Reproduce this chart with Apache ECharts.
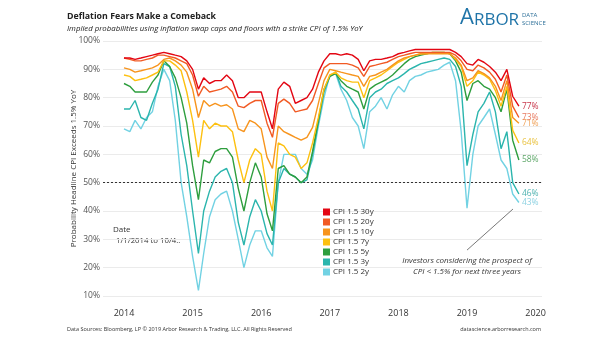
<!DOCTYPE html>
<html><head><meta charset="utf-8">
<script src="https://cdn.jsdelivr.net/npm/echarts@6/dist/echarts.min.js"></script>
<style>html,body{margin:0;padding:0;background:#fff}#c{width:605px;height:341px}</style>
</head><body><div id="c"></div>
<script>
const dates = ['2014-01','2014-02','2014-03','2014-04','2014-05','2014-06','2014-07','2014-08','2014-09','2014-10','2014-11','2014-12',
'2015-01','2015-02','2015-03','2015-04','2015-05','2015-06','2015-07','2015-08','2015-09','2015-10','2015-11','2015-12',
'2016-01','2016-02','2016-03','2016-04','2016-05','2016-06','2016-07','2016-08','2016-09','2016-10','2016-11','2016-12',
'2017-01','2017-02','2017-03','2017-04','2017-05','2017-06','2017-07','2017-08','2017-09','2017-10','2017-11','2017-12',
'2018-01','2018-02','2018-03','2018-04','2018-05','2018-06','2018-07','2018-08','2018-09','2018-10','2018-11','2018-12',
'2019-01','2019-02','2019-03','2019-04','2019-05','2019-06','2019-07','2019-08','2019-09','2019-10-04'];
const s30y = [94,94,93.5,94,94.5,95,95.5,96,95.5,95,94.5,93, 90,83,87,85,86,86,88,86,80,80,82,82, 82,75,69,83,85.5,84,78,79,80,83,89,93, 95.5,95.5,95,95.5,95,93.5,89.5,93,93.5,93.5,94,94.5, 95.5,96,96.5,97,97,97,97,97,97,97,96,94.5, 92,91.5,93.5,92.5,91,89,86,90,80.5,77];
const s20y = [94,93.5,93,93,93.5,94,95,95,94.5,94,93,92, 88,80.5,84,82,82.5,83,84,82,77,76.5,78,79, 79,71,66,78,79.5,78,75,75.5,76,79,85,90.5, 92,92,92,92,91.5,90.5,87.5,91,91.5,92,92.5,93.5, 94.5,95,95.5,96,96,96,96,96,96,96,95,93, 90,89.5,91.5,90.5,89,86.5,82,88,77,73];
const s10y = [90.5,90,89,89.5,90,90.5,91.5,93.5,94,93,91.5,89, 83,73,79,77,78,77,77.5,76,69,68,72,71, 69,59,55,70,68,67,66,65,66,69.5,78,86, 90,89.5,89,88.5,88,87.5,84,87.5,88,89,90,91.5, 93,94,94.5,95,95.5,95.5,95.5,95.5,95.5,95.5,94,91.5, 86,87,89.5,88.5,87,84,79,86,73,71];
const s7y = [88,87.5,86,86.5,87,88,89,93,93,91.5,89.5,82, 72,59,72,69,71,70,70,68,58,50,58,62, 60,47,40,64,63,60,59,55,57,64,73,83, 88,89,87,86,85.5,85.5,80,86,87,88,89.5,91, 92.5,93.5,94.5,95,95.5,95.5,96,96,96,95.5,93.5,91, 84,86,89,88,86.5,82.5,77,84,68.5,64];
const s5y = [85,84,82,82,82,85.5,88,93,91,87,80,71, 56,44,58,57,61,62,62,59,48,40,50,57, 52,39,33,55,56,53,52,50,52,61,72,83, 87.5,88.5,86,84,83,82,76,83,84.5,85.5,86.5,88, 90,92,93.5,94.5,95,95.5,96,96,96,95.5,93,89, 79,85,86,84,83,80,75,83,65,58];
const s3y = [76,76,79,73,72,78,83,92,91,84,67,56, 40,25,40,47,52,54,55,50,36,28,38,44, 40,32,28,50,55,53,52,50,51,60,71,82, 87.5,89,84,82,79,76,69,80,82,83,85,86, 87,88.5,90,91,92,92.5,93,93.5,94,93.5,91,84, 56,67,75,78,82,75,62,68,50,46];
const s2y = [69,68,72,69,73,75,84,90,86,72,50,38, 24,12,25,38,44,46,47,40,30,20,28,33, 33,27,24,50,60,60,60,55,53,58,70,80, 88,88.5,83,79,73,70,62,75,77,80,76,81, 84,82,86,87.5,88,89,89.5,90,91.5,92.5,86,68, 41,60,70,73,76,67,58,55,46,43];
const seriesNames = ['CPI 1.5 30y','CPI 1.5 20y','CPI 1.5 10y','CPI 1.5 7y','CPI 1.5 5y','CPI 1.5 3y','CPI 1.5 2y'];
const yearTicks = [2014,2015,2016,2017,2018,2019,2020];
const threshold = 50;

const colors = ['#e30613','#f15a24','#f7941d','#fdc010','#2e9e3e','#2bb5ad','#72d2e3'];
const labelColors = ['#c8364a','#e87c62','#f0a35a','#e9c240','#5fa86a','#4fb2b0','#8fd2e2'];
const FONT = 'Open Sans';

function decYear(s){
  const p = s.split('-').map(Number);
  const y = p[0], m = p[1]-1, d = p[2] || 1;
  const a = Date.UTC(y,0,1), b = Date.UTC(y+1,0,1);
  return y + (Date.UTC(y,m,d)-a)/(b-a);
}
const xs = dates.map(decYear);
const all = [s30y,s20y,s10y,s7y,s5y,s3y,s2y];

const series = all.map((vals,k)=>({
  name: seriesNames[k], type:'line', showSymbol:false, symbol:'none',
  data: vals.map((v,i)=>[xs[i], v]),
  lineStyle:{width:1.4, color:colors[k]}, itemStyle:{color:colors[k]},
  z: 10-k,
  endLabel:{show:true, distance:3, color:labelColors[k], fontFamily:FONT, fontSize:8.5,
    formatter: p => Math.round(p.value[1]) + '%'}
}));
series[0].markLine = {silent:true, symbol:'none', label:{show:false},
  lineStyle:{type:[2,2], color:'#333', width:1}, data:[{yAxis:threshold}]};
series[6].markLine = {silent:true, symbol:'none', label:{show:false},
  lineStyle:{type:'solid', color:'#555', width:0.8},
  data:[[{coord:[2019.0, 26.2]},{coord:[2019.67, 40.7]}]]};

const chart = echarts.init(document.getElementById('c'), null, {renderer:'canvas'});
chart.setOption({
  animation:false,
  textStyle:{fontFamily:FONT},
  grid:{left:103, right:63, top:41, bottom:45},
  xAxis:{type:'value', min:2013.694, max:2020.093,
    axisLine:{show:false}, axisTick:{show:false}, splitLine:{show:false},
    axisLabel:{customValues:yearTicks, formatter: v=>String(v), color:'#333', fontSize:9, margin:13, fontFamily:FONT}},
  yAxis:{type:'value', min:10, max:100, interval:10,
    axisLine:{show:false}, axisTick:{show:false},
    splitLine:{lineStyle:{color:'#ebebeb', width:1}},
    axisLabel:{formatter: v=>v+'%', color:'#555', fontSize:8.5, margin:3, fontFamily:FONT},
    name:'Probability Headline CPI Exceeds 1.5% YoY', nameLocation:'middle', nameGap:25, nameMoveOverlap:false,
    nameTextStyle:{color:'#333', fontSize:8, fontFamily:FONT}},
  legend:{orient:'vertical', left:318, top:203, itemWidth:7, itemHeight:7, itemGap:2,
    icon:'rect', data:seriesNames,
    textStyle:{fontSize:8, color:'#333', fontFamily:FONT, padding:[0,0,0,-2]}},
  graphic:[
    {type:'text', left:67, top:12, style:{text:'Deflation Fears Make a Comeback', font:'bold 8.8px "'+FONT+'"', fill:'#222'}},
    {type:'text', left:67, top:25, style:{text:'Implied probabilities using inflation swap caps and floors with a strike CPI of 1.5% YoY', font:'italic 7.8px "'+FONT+'"', fill:'#222'}},
    {type:'text', left:460, top:7, style:{text:'{a|A}{b|RBOR}', rich:{a:{fontSize:22, fontFamily:FONT, fill:'#1f74a8', verticalAlign:'bottom'}, b:{fontSize:17, fontFamily:FONT, fill:'#1f74a8', verticalAlign:'bottom'}}}},
    {type:'text', left:522, top:12, style:{text:'DATA', font:'6px "'+FONT+'"', fill:'#2c6f98'}},
    {type:'text', left:522, top:20, style:{text:'SCIENCE', font:'6px "'+FONT+'"', fill:'#2c6f98'}},
    {type:'text', left:113, top:226, style:{text:'Date', font:'8px "'+FONT+'"', fill:'#333'}},
    {type:'text', left:116, top:237, style:{text:'1/1/2014 to 10/4..', font:'7.8px "'+FONT+'"', fill:'#333'}},
    {type:'text', x:467, y:255, style:{text:'Investors considering the prospect of\nCPI < 1.5% for next three years', font:'italic 8px "'+FONT+'"', fill:'#333', align:'center', lineHeight:11}},
    {type:'text', left:67, top:326, style:{text:'Data Sources: Bloomberg, LP \u00a9 2019 Arbor Research & Trading, LLC. All Rights Reserved', font:'5.5px "'+FONT+'"', fill:'#333'}},
    {type:'text', right:64, top:326, style:{text:'datascience.arborresearch.com', font:'5.5px "'+FONT+'"', fill:'#333'}}
  ],
  series: series
});
</script></body></html>
